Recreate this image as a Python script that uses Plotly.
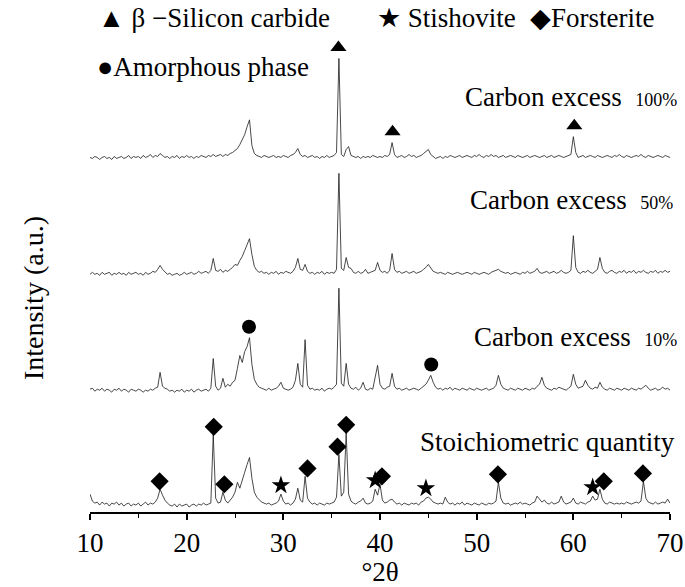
import numpy as np
import plotly.graph_objects as go

# 2-theta sampling grid (degrees)
TWO_THETA = np.round(np.arange(10.0, 70.001, 0.25), 2)

# Intensities (a.u.), one value per 0.25 deg step
I_STOICH = [
    18, 11, 9, 10, 7, 10, 8, 9, 6, 9, 8, 10, 7, 9, 6, 8, 9, 6, 8, 7,
    9, 6, 8, 10, 7, 9, 8, 10, 14, 23, 17, 12, 9, 7, 6, 8, 5, 8, 6, 7,
    8, 5, 7, 8, 6, 8, 7, 9, 7, 8, 9, 78, 14, 9, 10, 20, 12, 9, 12, 15,
    20, 30, 24, 31, 40, 48, 55, 34, 20, 15, 12, 10, 9, 8, 9, 7, 8, 9, 11, 18,
    11, 8, 9, 7, 9, 13, 24, 12, 10, 36, 14, 10, 8, 9, 7, 9, 8, 7, 9, 8,
    9, 10, 15, 58, 16, 20, 80, 18, 11, 9, 8, 10, 11, 14, 9, 8, 9, 11, 23, 17,
    28, 12, 9, 10, 12, 13, 10, 8, 9, 7, 9, 8, 7, 9, 8, 9, 7, 10, 11, 14,
    15, 13, 10, 9, 8, 9, 8, 15, 10, 8, 9, 7, 9, 8, 10, 7, 9, 8, 7, 9,
    8, 7, 9, 8, 7, 9, 8, 9, 11, 30, 14, 9, 8, 9, 7, 8, 9, 8, 10, 8,
    9, 8, 7, 9, 10, 16, 13, 10, 12, 9, 8, 10, 8, 9, 10, 16, 10, 8, 9, 10,
    14, 9, 8, 10, 9, 8, 10, 11, 16, 12, 13, 23, 13, 9, 8, 10, 9, 8, 9, 8,
    9, 8, 10, 9, 8, 9, 10, 9, 11, 31, 14, 10, 9, 8, 10, 8, 9, 10, 9, 13,
    9,
]
I_C10 = [
    9, 10, 7, 9, 8, 10, 7, 9, 8, 6, 9, 8, 10, 7, 9, 8, 6, 9, 8, 7,
    9, 8, 6, 8, 7, 9, 8, 10, 11, 26, 12, 10, 9, 7, 8, 6, 8, 7, 9, 6,
    8, 7, 9, 6, 8, 9, 7, 8, 9, 7, 10, 40, 12, 8, 10, 20, 11, 14, 12, 16,
    18, 30, 43, 36, 47, 52, 61, 34, 19, 14, 11, 10, 9, 8, 10, 8, 9, 10, 12, 16,
    10, 9, 8, 9, 11, 18, 35, 14, 11, 59, 13, 9, 10, 8, 9, 8, 10, 7, 9, 10,
    9, 11, 14, 111, 15, 12, 35, 14, 10, 9, 11, 8, 10, 16, 9, 8, 10, 9, 22, 33,
    14, 10, 9, 11, 12, 25, 12, 9, 10, 8, 9, 10, 8, 9, 10, 9, 8, 10, 12, 14,
    18, 23, 16, 11, 9, 10, 8, 10, 9, 11, 8, 10, 9, 8, 10, 9, 8, 10, 9, 8,
    10, 9, 8, 9, 10, 8, 9, 10, 13, 23, 14, 10, 9, 8, 10, 9, 8, 10, 9, 8,
    10, 9, 8, 10, 9, 12, 14, 21, 13, 10, 9, 8, 10, 9, 11, 10, 9, 8, 10, 12,
    24, 14, 10, 11, 12, 18, 13, 10, 9, 11, 10, 16, 11, 9, 8, 10, 9, 8, 10, 9,
    8, 10, 9, 8, 10, 9, 8, 10, 9, 11, 13, 10, 8, 9, 10, 8, 9, 11, 9, 10,
    8,
]
I_C50 = [
    8, 10, 8, 9, 7, 10, 8, 9, 10, 7, 9, 8, 10, 8, 9, 7, 10, 8, 9, 10,
    8, 9, 7, 10, 8, 9, 11, 10, 13, 17, 13, 10, 8, 9, 7, 8, 9, 7, 8, 10,
    8, 9, 10, 8, 9, 11, 9, 10, 11, 9, 12, 24, 12, 11, 13, 10, 12, 11, 13, 15,
    18, 17, 22, 26, 32, 38, 44, 28, 16, 12, 10, 11, 9, 10, 8, 10, 9, 11, 8, 10,
    9, 11, 10, 9, 11, 15, 24, 13, 12, 18, 11, 9, 10, 8, 10, 9, 11, 8, 10, 9,
    10, 9, 13, 110, 14, 12, 25, 15, 14, 10, 9, 11, 9, 10, 13, 9, 10, 11, 12, 20,
    12, 10, 11, 9, 12, 29, 13, 10, 11, 9, 10, 11, 9, 10, 11, 9, 10, 11, 13, 15,
    18, 14, 11, 10, 9, 10, 9, 8, 10, 9, 8, 9, 10, 9, 8, 9, 10, 9, 8, 10,
    9, 8, 9, 10, 9, 8, 10, 11, 12, 13, 11, 10, 9, 10, 8, 9, 10, 9, 8, 10,
    9, 11, 9, 10, 11, 14, 10, 9, 10, 11, 9, 10, 11, 9, 10, 12, 10, 9, 10, 12,
    47, 15, 10, 9, 11, 10, 12, 10, 9, 11, 13, 25, 14, 10, 9, 11, 12, 10, 9, 11,
    10, 12, 9, 11, 10, 12, 9, 11, 10, 12, 10, 9, 11, 10, 12, 9, 11, 10, 12, 10,
    11,
]
I_C100 = [
    9, 8, 10, 9, 7, 9, 10, 8, 9, 7, 10, 8, 9, 10, 8, 9, 11, 8, 10, 9,
    10, 8, 11, 9, 10, 12, 9, 11, 10, 13, 11, 9, 10, 8, 10, 9, 11, 8, 10, 9,
    11, 9, 10, 8, 10, 9, 11, 10, 9, 11, 10, 12, 10, 11, 12, 10, 12, 11, 13, 14,
    16, 18, 22, 27, 32, 40, 47, 21, 13, 11, 10, 9, 11, 10, 9, 10, 11, 9, 10, 9,
    11, 10, 9, 11, 12, 14, 18, 12, 10, 11, 9, 10, 11, 9, 10, 8, 10, 9, 11, 9,
    10, 11, 14, 109, 12, 10, 17, 20, 11, 10, 9, 10, 8, 10, 9, 10, 9, 11, 10, 9,
    10, 9, 11, 10, 12, 24, 12, 9, 10, 11, 9, 10, 12, 10, 11, 9, 10, 11, 13, 15,
    17, 12, 10, 8, 9, 10, 8, 10, 9, 11, 10, 9, 10, 11, 9, 10, 11, 10, 9, 11,
    10, 12, 10, 9, 11, 10, 12, 10, 11, 9, 10, 11, 9, 10, 11, 10, 9, 11, 10, 9,
    10, 11, 9, 10, 11, 10, 9, 10, 11, 9, 10, 11, 9, 10, 11, 10, 9, 10, 11, 12,
    30, 14, 9, 10, 11, 9, 10, 11, 10, 9, 11, 10, 9, 10, 11, 10, 9, 11, 10, 12,
    10, 9, 11, 10, 9, 10, 11, 10, 12, 10, 9, 11, 10, 9, 10, 11, 10, 9, 11, 10,
    9,
]

SAMPLE_NAMES = ["Stoichiometric quantity", "Carbon excess  10%",
                "Carbon excess  50%", "Carbon excess  100%"]

# Reflection positions (deg 2-theta) marked in the picture
SIC_PEAKS = [35.7, 41.3, 60.1]                    # on 100 % carbon pattern
AMORPHOUS_PEAKS = [26.45, 45.3]                   # on 10 % carbon pattern
FORSTERITE_PEAKS = [17.2, 22.8, 23.9, 32.5, 35.6, 36.5, 40.2, 52.2, 63.15, 67.2]
STISHOVITE_PEAKS = [29.75, 39.5, 44.75, 62.0]     # on stoichiometric pattern

# ---- presentation ----
FONT = "Times New Roman"
TS = 27
LINE_COLOR = "#1a1a1a"
OFFSETS = {"stoich": 0, "c10": 115, "c50": 232, "c100": 349}

x = TWO_THETA
series = {"stoich": np.array(I_STOICH, float), "c10": np.array(I_C10, float),
          "c50": np.array(I_C50, float), "c100": np.array(I_C100, float)}

fig = go.Figure()
for key, name in zip(["stoich", "c10", "c50", "c100"], SAMPLE_NAMES):
    fig.add_trace(go.Scatter(
        x=x, y=series[key] + OFFSETS[key], mode="lines", name=name,
        line=dict(color=LINE_COLOR, width=0.8), showlegend=False,
        hoverinfo="skip"))


def marker_y(key, positions, gap, win=0.45):
    ys = []
    for p in positions:
        m = (x >= p - win) & (x <= p + win)
        ys.append(series[key][m].max() + OFFSETS[key] + gap)
    return ys


def add_markers(key, positions, symbol, size, gap, name):
    fig.add_trace(go.Scatter(
        x=positions, y=marker_y(key, positions, gap), mode="markers",
        name=name, showlegend=False, cliponaxis=False,
        marker=dict(symbol=symbol, size=size, color="black", line=dict(width=0))))


add_markers("c100", SIC_PEAKS, "triangle-up", 14, 11, "β-SiC")
add_markers("c10", AMORPHOUS_PEAKS, "circle", 14, 11, "Amorphous phase")
add_markers("stoich", FORSTERITE_PEAKS, "diamond", 14, 8, "Forsterite")
add_markers("stoich", STISHOVITE_PEAKS, "star", 14, 9, "Stishovite")

W, H = 685, 587
ML, MR, MT, MB = 90, 15, 0, 70
PW, PH = W - ML - MR, H - MT - MB


def px(xp):
    return (xp - ML) / PW


def py(yp):
    return (H - MB - yp) / PH


ann = []


def text(xp, yp, s, size=TS, xanchor="left"):
    ann.append(dict(x=px(xp), y=py(yp), xref="paper", yref="paper", text=s,
                    showarrow=False, xanchor=xanchor, yanchor="middle",
                    font=dict(family=FONT, size=size, color="black")))


# legend-like header
text(96, 18, "▲ β −Silicon carbide")
text(375, 18, "★ Stishovite")
text(528, 18, "◆Forsterite")
text(95, 68, "●Amorphous phase")

# sample labels
SMALL = "<span style='font-size:18px'>{}</span>"
text(679, 98, "Carbon excess  " + SMALL.format("100%"), xanchor="right")
text(675, 202, "Carbon excess  " + SMALL.format("50%"), xanchor="right")
text(679, 340, "Carbon excess  " + SMALL.format("10%"), xanchor="right")
text(677, 446, "Stoichiometric quantity", xanchor="right")

# y-axis title
ann.append(dict(x=px(33), y=py(301), xref="paper", yref="paper",
                text="Intensity (a.u.)", textangle=-90, showarrow=False,
                xanchor="center", yanchor="middle",
                font=dict(family=FONT, size=28, color="black")))

fig.update_layout(
    width=W, height=H, margin=dict(l=ML, r=MR, t=MT, b=MB),
    paper_bgcolor="white", plot_bgcolor="white",
    annotations=ann, showlegend=False,
    font=dict(family=FONT, color="black", size=TS),
)
fig.update_xaxes(
    range=[10, 70], tickvals=[10, 20, 30, 40, 50, 60, 70],
    ticks="outside", ticklen=6, tickwidth=1.5, tickcolor="black",
    minor=dict(tickvals=[15, 25, 35, 45, 55, 65], ticks="outside", ticklen=4,
               tickwidth=1.2, tickcolor="black"),
    showline=True, linecolor="black", linewidth=1.8, showgrid=False,
    zeroline=False, tickfont=dict(family=FONT, size=TS, color="black"),
    title=dict(text="°2θ", font=dict(family=FONT, size=TS, color="black"), standoff=10),
)
fig.update_yaxes(range=[0, PH], showticklabels=False, showgrid=False,
                 zeroline=False, showline=False, ticks="")

fig.write_html("out.html")
